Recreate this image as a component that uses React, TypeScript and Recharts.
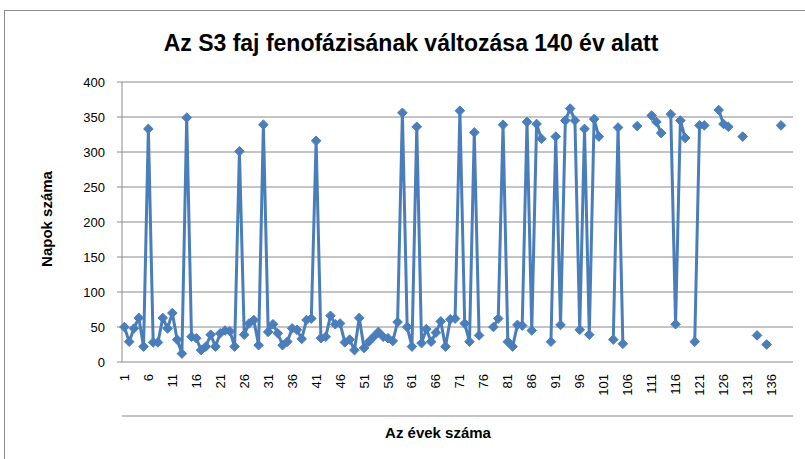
import { LineChart, Line, XAxis, YAxis, CartesianGrid } from "recharts";

const years: number[] = Array.from({ length: 140 }, (_, i) => i + 1);

const napok: (number | null)[] = [
  50, 29, 48, 63, 22, 333, 28, 28, 63, 48,
  70, 32, 12, 349, 36, 34, 17, 22, 39, 22,
  41, 45, 44, 22, 301, 39, 55, 60, 24, 339,
  43, 54, 41, 24, 29, 48, 46, 33, 60, 62,
  316, 34, 36, 66, 54, 55, 28, 32, 17, 63,
  20, 29, 36, 43, 36, 34, 30, 57, 356, 50,
  22, 336, 27, 47, 29, 42, 58, 22, 61, 62,
  359, 55, 29, 328, 38, null, null, 50, 62, 339,
  29, 22, 53, 52, 343, 45, 340, 319, null, 29,
  322, 53, 345, 362, 345, 46, 333, 39, 347, 322,
  null, null, 32, 335, 26, null, null, 337, null, null,
  352, 343, 327, null, 354, 54, 345, 320, null, 29,
  338, 338, null, null, 360, 340, 336, null, null, 322,
  null, null, 38, null, 25, null, null, 338, null, null,
];

const yTicks = [0, 50, 100, 150, 200, 250, 300, 350, 400];
const xLabelTicks = [1, 6, 11, 16, 21, 26, 31, 36, 41, 46, 51, 56, 61, 66, 71, 76, 81, 86, 91, 96, 101, 106, 111, 116, 121, 126, 131, 136];
// tick marks sit between the categories
const xBoundaries = [...years.map((y) => y - 0.5), years.length + 0.5];

const data = years.map((year, i) => ({ year, napok: napok[i] }));

const BLUE = "#4a7ebb";
const GRID = "#8a8a8a";
const FONT = "'Liberation Sans', Arial, sans-serif";

const DiamondDot = (props: any) => {
  const { cx, cy, index } = props;
  if (cx == null || cy == null || props.value == null) return <g key={`d-${index}`} />;
  const r = 4.8;
  return (
    <path
      key={`d-${index}`}
      d={`M${cx},${cy - r}L${cx + r},${cy}L${cx},${cy + r}L${cx - r},${cy}Z`}
      fill={BLUE}
      stroke={BLUE}
      strokeWidth={1}
    />
  );
};

const RotatedTick = (props: any) => {
  const { x, y, payload } = props;
  return (
    <text
      x={0}
      y={0}
      transform={`translate(${x + 4.5},${y + 4}) rotate(-90)`}
      textAnchor="end"
      fontSize={13}
      fontFamily={FONT}
      fill="#000"
    >
      {payload.value}
    </text>
  );
};

export default function App() {
  return (
    <div style={{ position: "absolute", left: 0, top: 0, width: 805, height: 459, background: "#fff", overflow: "hidden" }}>
      <div
        style={{
          position: "absolute",
          left: 4,
          top: 10,
          width: 900,
          height: 600,
          border: "1px solid #8c8c8c",
        }}
      />
      <div
        style={{
          position: "absolute",
          left: 0,
          width: 822,
          top: 30,
          textAlign: "center",
          fontFamily: FONT,
          fontWeight: "bold",
          fontSize: 23,
          color: "#000",
        }}
      >
        Az S3 faj fenofázisának változása 140 év alatt
      </div>
      <div
        style={{
          position: "absolute",
          left: 46,
          top: 219,
          transform: "translate(-50%, -50%) rotate(-90deg)",
          whiteSpace: "nowrap",
          fontFamily: FONT,
          fontWeight: "bold",
          fontSize: 15,
        }}
      >
        Napok száma
      </div>
      <div
        style={{
          position: "absolute",
          left: 438,
          top: 432,
          transform: "translate(-50%, -50%)",
          whiteSpace: "nowrap",
          fontFamily: FONT,
          fontWeight: "bold",
          fontSize: 15,
        }}
      >
        Az évek száma
      </div>
      <div style={{ position: "absolute", left: 0, top: 0 }}>
        <LineChart width={805} height={459} data={data} margin={{ top: 82, right: 12, bottom: 37, left: 62 }}>
          <CartesianGrid vertical={false} stroke={GRID} strokeWidth={1} />
          <XAxis
            xAxisId="marks"
            dataKey="year"
            type="number"
            domain={[0.5, years.length + 0.5]}
            ticks={xBoundaries}
            tick={false}
            tickSize={5}
            stroke={GRID}
            height={6}
            interval={0}
          />
          <XAxis
            xAxisId="labels"
            dataKey="year"
            type="number"
            domain={[0.5, years.length + 0.5]}
            ticks={xLabelTicks}
            tick={<RotatedTick />}
            tickLine={false}
            axisLine={false}
            height={54}
            interval={0}
          />
          <YAxis
            domain={[0, 400]}
            ticks={yTicks}
            width={60}
            stroke={GRID}
            tickSize={5}
            tickMargin={12}
            tick={{ fill: "#000", fontSize: 13, fontFamily: FONT }}
            interval={0}
          />
          <Line
            xAxisId="marks"
            type="linear"
            dataKey="napok"
            stroke={BLUE}
            strokeWidth={3}
            dot={<DiamondDot />}
            activeDot={false}
            connectNulls={false}
            isAnimationActive={false}
          />
        </LineChart>
      </div>
    </div>
  );
}
